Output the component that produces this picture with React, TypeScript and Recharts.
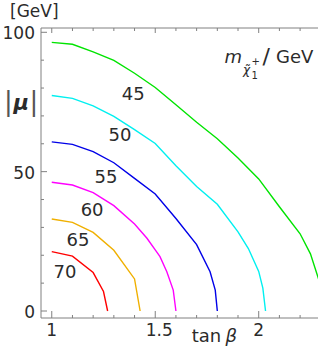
import { LineChart, Line, XAxis, YAxis, ReferenceDot } from "recharts";

// contour m_chargino = 45 GeV
const tanB45 = [1.0, 1.1, 1.2, 1.3, 1.4, 1.5, 1.6, 1.7, 1.8, 1.9, 2.0, 2.1, 2.2, 2.25, 2.29];
const mu45 = [96.4, 95.7, 93.0, 89.9, 85.3, 80.2, 74.0, 67.7, 61.8, 54.9, 47.4, 37.4, 27.7, 20.5, 11.3];

// 50 GeV
const tanB50 = [1.0, 1.1, 1.2, 1.3, 1.4, 1.5, 1.6, 1.7, 1.8, 1.9, 1.95, 2.0, 2.02, 2.033];
const mu50 = [77.3, 76.3, 73.6, 69.8, 65.1, 60.1, 52.1, 44.7, 38.3, 28.4, 22.4, 14.2, 8.2, 0];

// 55 GeV
const tanB55 = [1.0, 1.1, 1.2, 1.3, 1.4, 1.5, 1.6, 1.7, 1.765, 1.79, 1.8];
const mu55 = [60.7, 59.8, 57.2, 53.2, 47.6, 42.0, 33.2, 23.8, 14.1, 7.5, 0];

// 60 GeV
const tanB60 = [1.0, 1.1, 1.2, 1.3, 1.4, 1.46, 1.5, 1.523, 1.556, 1.587, 1.6];
const mu60 = [46.2, 45.2, 42.5, 37.8, 31.2, 26.1, 21.9, 19.5, 14.1, 7.5, 0];

// 65 GeV
const tanB65 = [1.0, 1.1, 1.2, 1.3, 1.4, 1.427];
const mu65 = [33.0, 31.8, 28.2, 21.8, 11.5, 0];

// 70 GeV
const tanB70 = [1.0, 1.1, 1.2, 1.25, 1.27];
const mu70 = [21.3, 19.7, 13.8, 7.0, 0];

// contour labels (placed in data coords)
const labelText = ["45", "50", "55", "60", "65", "70"];
const labelTanB = [1.394, 1.33, 1.262, 1.195, 1.127, 1.064];
const labelMu = [78.1, 63.2, 48.3, 36.2, 25.5, 14.0];

const xTicks = [1.0, 1.1, 1.2, 1.3, 1.4, 1.5, 1.6, 1.7, 1.8, 1.9, 2.0, 2.1, 2.2];
const xTickLabels = ["1", "1.5", "2"];
const yTicks = [0, 10, 20, 30, 40, 50, 60, 70, 80, 90, 100];

const zip = (xs: number[], ys: number[]) => xs.map((x, i) => ({ x, y: ys[i] }));

const curves = [
  { name: "45", color: "#00e400", data: zip(tanB45, mu45) },
  { name: "50", color: "#00f0f0", data: zip(tanB50, mu50) },
  { name: "55", color: "#0000e8", data: zip(tanB55, mu55) },
  { name: "60", color: "#ff00ff", data: zip(tanB60, mu60) },
  { name: "65", color: "#f0b000", data: zip(tanB65, mu65) },
  { name: "70", color: "#ff0000", data: zip(tanB70, mu70) },
];

const FONT = "'DejaVu Sans', sans-serif";
const AXIS = "#808080";
const INK = "#2b2b2b";

const isHalf = (v: number) => Math.abs(v * 2 - Math.round(v * 2)) < 1e-6;

function BottomTick(props: any) {
  const { x, y, payload } = props;
  const v = payload.value as number;
  const major = isHalf(v);
  const idx = major ? Math.round(v * 2) - 2 : -1;
  return (
    <g>
      <line x1={x} y1={y} x2={x} y2={y - (major ? 7 : 3)} stroke={AXIS} />
      {major && (
        <text
          x={x + (idx === 1 ? 4 : 0)}
          y={y + 17.7}
          textAnchor="middle"
          fontFamily={FONT}
          fontSize={17}
          fill={INK}
        >
          {xTickLabels[idx]}
        </text>
      )}
    </g>
  );
}

function TopTick(props: any) {
  const { x, y, payload } = props;
  const major = isHalf(payload.value);
  return <line x1={x} y1={y} x2={x} y2={y + (major ? 5 : 3)} stroke={AXIS} />;
}

function LeftTick(props: any) {
  const { x, y, payload } = props;
  const v = payload.value as number;
  const major = v % 50 === 0;
  return (
    <g>
      <line x1={x} y1={y} x2={x + (major ? 6 : 3)} y2={y} stroke={AXIS} />
      {major && (
        <text x={x - 6} y={y + 7} textAnchor="end" fontFamily={FONT} fontSize={17} fill={INK}>
          {v}
        </text>
      )}
    </g>
  );
}

export default function App() {
  return (
    <div style={{ position: "absolute", left: 0, top: 0, width: 318, height: 347, background: "#fff" }}>
      <LineChart width={318} height={347} margin={{ top: 0, right: 0, bottom: 0, left: 0 }}>
        <XAxis
          xAxisId="b"
          dataKey="x"
          type="number"
          domain={[0.948, 2.2865]}
          allowDataOverflow
          ticks={xTicks}
          interval={0}
          height={29}
          tickSize={0}
          tickMargin={0}
          tickLine={false}
          axisLine={{ stroke: AXIS }}
          tick={<BottomTick />}
        />
        <XAxis
          xAxisId="t"
          orientation="top"
          dataKey="x"
          type="number"
          domain={[0.948, 2.2865]}
          allowDataOverflow
          ticks={xTicks}
          interval={0}
          height={28}
          tickSize={0}
          tickMargin={0}
          tickLine={false}
          axisLine={{ stroke: AXIS }}
          tick={<TopTick />}
        />
        <YAxis
          dataKey="y"
          type="number"
          domain={[-2.51, 101.54]}
          allowDataOverflow
          ticks={yTicks}
          interval={0}
          width={41}
          tickSize={0}
          tickMargin={0}
          tickLine={false}
          axisLine={{ stroke: AXIS }}
          tick={<LeftTick />}
        />
        {curves.map((c) => (
          <Line
            key={c.name}
            xAxisId="b"
            data={c.data}
            dataKey="y"
            type="linear"
            stroke={c.color}
            strokeWidth={1.4}
            dot={false}
            activeDot={false}
            isAnimationActive={false}
          />
        ))}
        {labelText.map((t, i) => (
          <ReferenceDot
            key={t}
            xAxisId="b"
            x={labelTanB[i]}
            y={labelMu[i]}
            r={0}
            shape={(p: any) => (
              <text
                x={p.cx}
                y={p.cy}
                dy={6.2}
                textAnchor="middle"
                fontFamily={FONT}
                fontSize={18}
                fill={INK}
              >
                {t}
              </text>
            )}
          />
        ))}
      </LineChart>
      <svg
        width={318}
        height={347}
        style={{ position: "absolute", left: 0, top: 0, pointerEvents: "none" }}
        fontFamily={FONT}
        fill={INK}
      >
        <text x={10} y={17} fontSize={17}>[GeV]</text>
        <text x={4} y={109.5} fontSize={26} fill="#555">|</text>
        <text x={13.5} y={109.8} fontSize={21} fontStyle="italic" fontWeight="bold">μ</text>
        <text x={29.5} y={109.5} fontSize={26} fill="#555">|</text>
        <text x={224.5} y={63} fontSize={18} fontStyle="italic">m</text>
        <text x={243} y={74} fontSize={12} fontStyle="italic">χ̃</text>
        <text x={251.5} y={65} fontSize={10}>+</text>
        <text x={251.5} y={79} fontSize={10}>1</text>
        <text x={262.5} y={64} fontSize={22}>/</text>
        <text x={276} y={63} fontSize={18}>GeV</text>
        <text x={191.7} y={341.7} fontSize={18}>tan</text>
        <text x={225.5} y={341.7} fontSize={18} fontStyle="italic">β</text>
      </svg>
    </div>
  );
}
